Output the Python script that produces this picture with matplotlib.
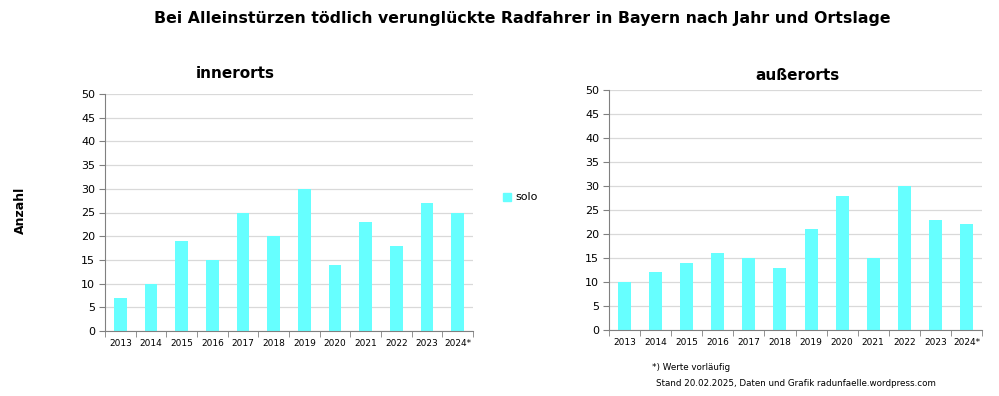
import matplotlib.pyplot as plt
import numpy as np

YEARS = ["2013", "2014", "2015", "2016", "2017", "2018", "2019", "2020", "2021", "2022", "2023", "2024*"]
INNERORTS = [7, 10, 19, 15, 25, 20, 30, 14, 23, 18, 27, 25]
AUSSERORTS = [10, 12, 14, 16, 15, 13, 21, 28, 15, 30, 23, 22]

BAR_COLOR = "#66ffff"
W, H = 999, 396

plt.rcParams["font.family"] = ["DejaVu Sans"]

fig = plt.figure(figsize=(W / 100, H / 100), dpi=100)


def add_panel(left, right, top, bottom, values, title, title_x, title_y):
    ax = fig.add_axes([left / W, 1 - bottom / H, (right - left) / W, (bottom - top) / H])
    x = np.arange(len(values))
    ax.bar(x, values, width=0.42, color=BAR_COLOR, zorder=2)
    ax.set_xlim(-0.5, len(values) - 0.5)
    ax.set_ylim(0, 50)
    ax.set_yticks(range(0, 51, 5))
    ax.grid(axis="y", color="#d9d9d9", linewidth=0.9, zorder=0)
    ax.set_xticks(x)
    ax.set_xticklabels(YEARS, fontsize=6.5)
    ax.set_xticks(np.arange(-0.5, len(values)), minor=True)
    ax.tick_params(axis="x", which="major", length=0, pad=6)
    ax.tick_params(axis="x", which="minor", length=4, color="#808080")
    ax.tick_params(axis="y", labelsize=8, length=4, color="#808080", pad=3)
    for side in ("top", "right"):
        ax.spines[side].set_visible(False)
    for side in ("left", "bottom"):
        ax.spines[side].set_color("#808080")
    fig.text(title_x / W, 1 - title_y / H, title, ha="center", va="center",
             fontsize=11, fontweight="bold")
    return ax


add_panel(105, 473, 94, 331, INNERORTS, "innerorts", 235, 73)
add_panel(609, 982, 90, 330, AUSSERORTS, "außerorts", 798, 75)

fig.text(522 / W, 1 - 18 / H, "Bei Alleinstürzen tödlich verunglückte Radfahrer in Bayern nach Jahr und Ortslage",
         ha="center", va="center", fontsize=11.3, fontweight="bold")
fig.text(20 / W, 1 - 210 / H, "Anzahl", rotation=90, ha="center", va="center",
         fontsize=9, fontweight="bold")

# legend
fig.patches.append(plt.Rectangle((503 / W, 1 - 201 / H), 8 / W, 8 / H, color=BAR_COLOR,
                                 transform=fig.transFigure, figure=fig))
fig.text(515 / W, 1 - 197 / H, "solo", ha="left", va="center", fontsize=8)

fig.text(652 / W, 1 - 367 / H, "*) Werte vorläufig", ha="left", va="center", fontsize=6.3)
fig.text(656 / W, 1 - 383 / H, "Stand 20.02.2025, Daten und Grafik radunfaelle.wordpress.com",
         ha="left", va="center", fontsize=6.3)

fig.savefig("out.png", dpi=100)
